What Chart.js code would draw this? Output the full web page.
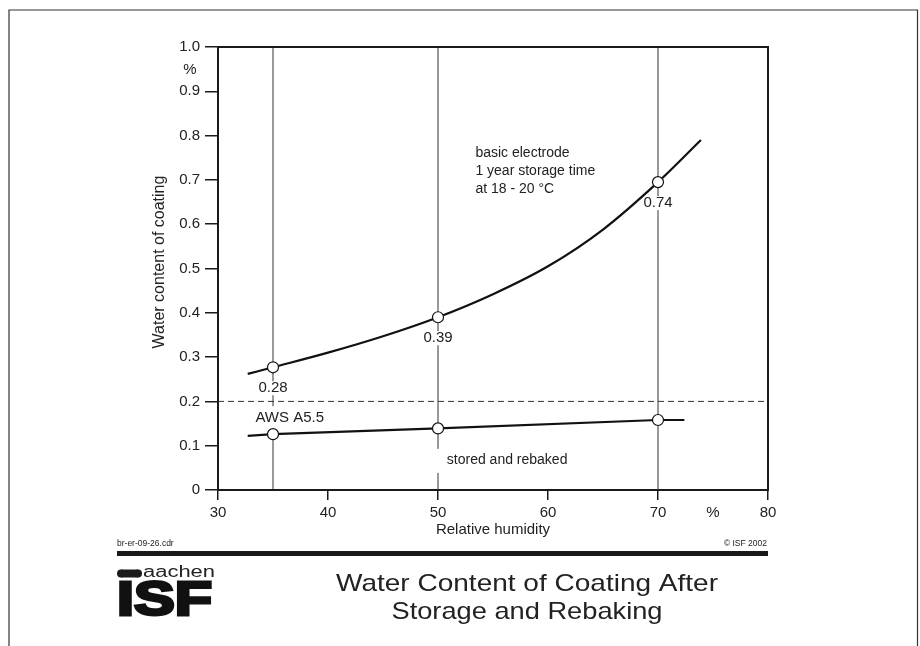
<!DOCTYPE html>
<html>
<head>
<meta charset="utf-8">
<script src="https://cdn.jsdelivr.net/npm/chart.js@4.4.1/dist/chart.umd.min.js"></script>
<style>
  body { margin: 0; background: #fff; }
  canvas { display: block; }
</style>
</head>
<body>
<canvas id="waterChart" width="920" height="646"></canvas>
<script>
// values
var xTicks = [30, 40, 50, 60, 70, 80];
var yTicks = [0, 0.1, 0.2, 0.3, 0.4, 0.5, 0.6, 0.7, 0.8, 0.9, 1.0];
var yTickLabels = ["0", "0.1", "0.2", "0.3", "0.4", "0.5", "0.6", "0.7", "0.8", "0.9", "1.0"];

// basic electrode, 1 year storage
var storedX = [32.7, 35, 40, 45, 50, 55, 60, 65, 70, 73.9];
var storedY = [0.262, 0.277, 0.310, 0.347, 0.390, 0.442, 0.505, 0.588, 0.695, 0.79];

// stored and rebaked
var rebakedX = [32.7, 35, 50, 70, 72.4];
var rebakedY = [0.122, 0.126, 0.139, 0.158, 0.158];

// measured points (open circles) and their labels
var measX = [35, 50, 70];
var storedMeas = [0.277, 0.390, 0.695];
var rebakedMeas = [0.126, 0.139, 0.158];
var measLabels = ["0.28", "0.39", "0.74"];

var awsLimit = 0.2;

var FONT = "'Liberation Sans', Arial, sans-serif";
var INK = "#1a1a1a";

var pts = function(xs, ys){
	var out = [];
	for(var i=0; i<xs.length; i++){
		out.push({x: xs[i], y: ys[i]});
	}
	return out;
};

var datasets = [];
// vertical guide lines at the measured humidities
for(var i=0; i<measX.length; i++){
	datasets.push({
		data: [{x: measX[i], y: yTicks[0]}, {x: measX[i], y: yTicks[yTicks.length-1]}],
		showLine: true, borderColor: "#555", borderWidth: 1.2,
		pointRadius: 0, order: 10
	});
}
datasets.push({
	data: [{x: xTicks[0], y: awsLimit}, {x: xTicks[xTicks.length-1], y: awsLimit}],
	showLine: true, borderColor: "#333", borderWidth: 1, borderDash: [6, 4],
	pointRadius: 0, order: 9
});
datasets.push({
	data: pts(storedX, storedY),
	showLine: true, borderColor: "#111", borderWidth: 2.2,
	cubicInterpolationMode: "monotone", pointRadius: 0, order: 3
});
datasets.push({
	data: pts(rebakedX, rebakedY),
	showLine: true, borderColor: "#111", borderWidth: 2.2,
	pointRadius: 0, order: 3
});
datasets.push({
	data: pts(measX, storedMeas),
	showLine: false, pointStyle: "circle", pointRadius: 5.5,
	pointBackgroundColor: "#fff", pointBorderColor: "#111", pointBorderWidth: 1.2, order: 1
});
datasets.push({
	data: pts(measX, rebakedMeas),
	showLine: false, pointStyle: "circle", pointRadius: 5.5,
	pointBackgroundColor: "#fff", pointBorderColor: "#111", pointBorderWidth: 1.2, order: 1
});

// text sitting on a white patch so the guide lines break around it
var boxedText = function(ctx, txt, x, y, align, padX, padTop, padBottom){
	var w = ctx.measureText(txt).width;
	var left = align === "center" ? x - w/2 : x;
	ctx.fillStyle = "#fff";
	ctx.fillRect(left - padX, y - padTop, w + 2*padX, padTop + padBottom);
	ctx.fillStyle = "#222";
	ctx.textAlign = align;
	ctx.textBaseline = "middle";
	ctx.fillText(txt, x, y);
};

var labelsPlugin = {
	id: "labels",
	afterDatasetDraw: function(chart, args){
		if(args.index !== 0) return;
		var ctx = chart.ctx, xs = chart.scales.x, ys = chart.scales.y;
		ctx.save();
		ctx.font = "15px " + FONT;
		for(var i=0; i<measX.length; i++){
			var px = xs.getPixelForValue(measX[i]);
			var py = ys.getPixelForValue(storedMeas[i]);
			boxedText(ctx, measLabels[i], px, py + 21, "center", 1, 7, 7);
		}
		boxedText(ctx, "AWS A5.5", xs.getPixelForValue(33.4), ys.getPixelForValue(0.162), "left", 2, 12, 11);
		ctx.font = "14px " + FONT;
		var sx = xs.getPixelForValue(50.8), sy = ys.getPixelForValue(0.068);
		var sw = ctx.measureText("stored and rebaked").width;
		ctx.fillStyle = "#fff";
		ctx.fillRect(xs.getPixelForValue(50) - 6, sy - 11, sx - xs.getPixelForValue(50) + 6 + sw + 2, 24);
		ctx.fillStyle = "#222";
		ctx.textAlign = "left";
		ctx.textBaseline = "middle";
		ctx.fillText("stored and rebaked", sx, sy);
		var ax = xs.getPixelForValue(53.4);
		ctx.fillText("basic electrode", ax, ys.getPixelForValue(0.761));
		ctx.fillText("1 year storage time", ax, ys.getPixelForValue(0.720));
		ctx.fillText("at 18 - 20 \u00B0C", ax, ys.getPixelForValue(0.680));
		ctx.restore();
	},
	afterDraw: function(chart){
		var ctx = chart.ctx, a = chart.chartArea;
		ctx.save();
		// plot frame
		ctx.strokeStyle = INK;
		ctx.lineWidth = 2;
		ctx.strokeRect(a.left, a.top, a.right - a.left, a.bottom - a.top);
		// page frame
		ctx.strokeStyle = "#333";
		ctx.lineWidth = 1.2;
		ctx.beginPath();
		ctx.moveTo(9, 646); ctx.lineTo(9, 10); ctx.lineTo(917.5, 10); ctx.lineTo(917.5, 646);
		ctx.stroke();

		ctx.fillStyle = "#222";
		ctx.font = "15px " + FONT;
		ctx.textAlign = "center";
		ctx.textBaseline = "middle";
		ctx.fillText("%", 190, 70);
		ctx.fillText("%", chart.scales.x.getPixelForValue(75), 513);
		ctx.fillText("Relative humidity", 493, 530);
		ctx.save();
		ctx.font = "16px " + FONT;
		ctx.translate(160, 262);
		ctx.rotate(-Math.PI/2);
		ctx.fillText("Water content of coating", 0, 0);
		ctx.restore();

		// footer
		ctx.font = "8.5px " + FONT;
		ctx.textAlign = "left";
		ctx.fillText("br-er-09-26.cdr", 117, 544);
		ctx.textAlign = "right";
		ctx.fillText("\u00A9 ISF 2002", 767, 544);
		ctx.fillStyle = INK;
		ctx.fillRect(117, 551, 651, 5);

		// logo
		ctx.beginPath();
		ctx.ellipse(121, 573.5, 4, 4, 0, 0, Math.PI*2);
		ctx.fill();
		ctx.fillRect(121, 569.5, 17, 8);
		ctx.beginPath();
		ctx.ellipse(138, 573.5, 4, 4, 0, 0, Math.PI*2);
		ctx.fill();
		ctx.fillStyle = "#222";
		ctx.font = "16px " + FONT;
		ctx.textAlign = "left";
		var aw = ctx.measureText("aachen").width;
		ctx.save();
		ctx.translate(143, 573);
		ctx.scale(72/aw, 1);
		ctx.fillText("aachen", 0, 0);
		ctx.restore();
		ctx.fillStyle = "#111";
		ctx.font = "bold 48px " + FONT;
		ctx.textBaseline = "alphabetic";
		var lw = ctx.measureText("ISF").width;
		ctx.save();
		ctx.translate(117, 615);
		ctx.scale(95/lw, 1);
		ctx.lineWidth = 3;
		ctx.strokeStyle = "#111";
		ctx.strokeText("ISF", 0, 0);
		ctx.fillText("ISF", 0, 0);
		ctx.restore();

		// title
		ctx.fillStyle = "#222";
		ctx.font = "24px " + FONT;
		ctx.textAlign = "center";
		ctx.textBaseline = "middle";
		var lines = [["Water Content of Coating After", 382, 584], ["Storage and Rebaking", 271, 612]];
		for(var i=0; i<lines.length; i++){
			var tw = ctx.measureText(lines[i][0]).width;
			ctx.save();
			ctx.translate(527, lines[i][2]);
			ctx.scale(lines[i][1]/tw, 1);
			ctx.fillText(lines[i][0], 0, 0);
			ctx.restore();
		}
		ctx.restore();
	}
};

var ctx = document.getElementById("waterChart").getContext("2d");
var waterChart = new Chart(ctx, {
	type: "scatter",
	data: { datasets: datasets },
	options: {
		responsive: false,
		animation: false,
		layout: { padding: { left: 158, right: 152, top: 47, bottom: 116 } },
		plugins: { legend: { display: false }, tooltip: { enabled: false } },
		scales: {
			x: {
				type: "linear", min: xTicks[0], max: xTicks[xTicks.length-1],
				afterBuildTicks: function(s){ s.ticks = xTicks.map(function(v){ return {value: v}; }); },
				afterFit: function(s){ s.height = 40; },
				grid: { drawOnChartArea: false, tickLength: 10, color: INK, lineWidth: 1.5 },
				border: { display: false },
				ticks: { padding: 4, maxRotation: 0, color: "#222", font: { family: FONT, size: 15 } }
			},
			y: {
				type: "linear", min: yTicks[0], max: yTicks[yTicks.length-1],
				afterBuildTicks: function(s){ s.ticks = yTicks.map(function(v){ return {value: v}; }); },
				afterFit: function(s){ s.width = 60; },
				grid: { drawOnChartArea: false, tickLength: 13, color: INK, lineWidth: 1.5 },
				border: { display: false },
				ticks: {
					padding: 5, color: "#222", font: { family: FONT, size: 15 },
					callback: function(v, i){ return yTickLabels[i]; }
				}
			}
		}
	},
	plugins: [labelsPlugin]
});
</script>
</body>
</html>
